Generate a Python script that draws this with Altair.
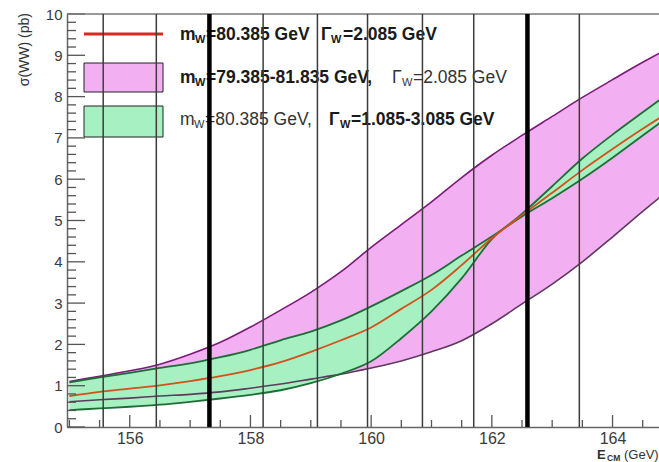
import altair as alt
import pandas as pd
import numpy as np

# ---------------- data ----------------
energy = [155.0, 155.5, 156.0, 156.5, 157.0, 157.5, 158.0, 158.5, 159.0, 159.5,
          160.0, 160.5, 161.0, 161.5, 162.0, 162.5, 163.0, 163.5, 164.0, 164.5, 164.8]
# mW=80.385, GW=2.085
sigma_central = [0.75, 0.85, 0.93, 1.01, 1.11, 1.23, 1.38, 1.57, 1.82, 2.10,
                 2.41, 2.86, 3.32, 3.92, 4.57, 5.13, 5.67, 6.22, 6.73, 7.22, 7.50]
# mW band 79.385-81.835
sigma_mass_low_m = [1.10, 1.23, 1.36, 1.52, 1.76, 2.05, 2.42, 2.83, 3.26, 3.76,
                    4.35, 4.90, 5.45, 6.04, 6.58, 7.06, 7.52, 7.98, 8.41, 8.83, 9.07]
sigma_mass_high_m = [0.61, 0.66, 0.70, 0.75, 0.79, 0.85, 0.94, 1.04, 1.16, 1.28,
                     1.43, 1.60, 1.82, 2.09, 2.50, 2.98, 3.46, 4.00, 4.60, 5.22, 5.58]
# GW band 1.085-3.085
sigma_width_wide = [1.08, 1.20, 1.31, 1.43, 1.54, 1.69, 1.87, 2.10, 2.31, 2.58,
                    2.92, 3.29, 3.68, 4.15, 4.61, 5.10, 5.54, 6.01, 6.52, 7.06, 7.38]
sigma_width_narrow = [0.41, 0.45, 0.49, 0.54, 0.61, 0.69, 0.78, 0.89, 1.06, 1.29,
                      1.59, 2.15, 2.80, 3.60, 4.55, 5.16, 5.83, 6.50, 7.08, 7.62, 7.94]
scan_points = [155.56, 156.44, 158.21, 159.11, 159.94, 160.85, 161.70, 163.45]
optimal_points = [157.32, 162.59]
x_tick_labels = [156, 158, 160, 162, 164]
y_tick_labels = list(range(0, 11))

curves = pd.DataFrame({
    "E": energy,
    "central": sigma_central,
    "m_up": sigma_mass_low_m,
    "m_dn": sigma_mass_high_m,
    "g_a": sigma_width_wide,
    "g_b": sigma_width_narrow,
})

# ---------------- layout ----------------
W, H = 592, 413
XDOM = [154.96, 164.77]
FONT = "Liberation Sans"
xs = alt.Scale(domain=XDOM, nice=False, zero=False)
ys = alt.Scale(domain=[0, 10], nice=False, zero=False)

MAG_FILL = "#f2aff1"
MAG_LINE = "#7a1b78"
GRN_FILL = "#a6f0c2"
GRN_LINE = "#1d6e36"
RED = "#d4501c"

base = alt.Chart(curves)

x_enc = alt.X("E:Q", scale=xs,
              axis=alt.Axis(values=x_tick_labels, format="d", title=None, ticks=False,
                            grid=False, labelFontSize=16, labelFont=FONT,
                            labelColor="#3a3a3a", labelPadding=3,
                            domainColor="#666666", domainWidth=1.5))

mag_area = base.mark_area(color=MAG_FILL, opacity=1, interpolate="monotone", clip=True).encode(
    x=x_enc,
    y=alt.Y("m_up:Q", scale=ys,
            axis=alt.Axis(values=y_tick_labels, title=None, ticks=False, grid=False,
                          labelFontSize=15, labelFont=FONT, labelColor="#3a3a3a",
                          labelPadding=5, domainColor="#666666", domainWidth=1.5)),
    y2="m_dn:Q",
)
grn_area = base.mark_area(color=GRN_FILL, opacity=1, interpolate="monotone", clip=True).encode(
    x=alt.X("E:Q", scale=xs), y=alt.Y("g_a:Q", scale=ys), y2="g_b:Q")


def curve(col, color, width):
    return base.mark_line(color=color, strokeWidth=width, interpolate="monotone", clip=True).encode(
        x=alt.X("E:Q", scale=xs), y=alt.Y(f"{col}:Q", scale=ys))


lines = [
    curve("m_up", MAG_LINE, 1.6),
    curve("m_dn", "#5d3a5e", 1.6),
    curve("g_a", GRN_LINE, 1.8),
    curve("g_b", GRN_LINE, 1.8),
    curve("central", RED, 1.8),
]

# inward ticks
one = pd.DataFrame({"a": [0]})
y_major = pd.DataFrame({"v": y_tick_labels})
y_minor = pd.DataFrame({"v": [round(v, 2) for v in np.arange(0, 10.01, 0.2) if abs(v - round(v)) > 1e-6]})
x_major = pd.DataFrame({"v": x_tick_labels})
x_minor = pd.DataFrame({"v": [v for v in np.arange(155.0, 164.8, 0.5) if v not in x_tick_labels]})

tick_col = "#555555"
ticks = [
    alt.Chart(y_major).mark_rule(color=tick_col, strokeWidth=1.3).encode(
        y=alt.Y("v:Q", scale=ys), x=alt.value(0), x2=alt.value(18)),
    alt.Chart(y_minor).mark_rule(color=tick_col, strokeWidth=1.3).encode(
        y=alt.Y("v:Q", scale=ys), x=alt.value(0), x2=alt.value(9)),
    alt.Chart(x_major).mark_rule(color=tick_col, strokeWidth=1.3).encode(
        x=alt.X("v:Q", scale=xs), y=alt.value(H), y2=alt.value(H - 12)),
    alt.Chart(x_minor).mark_rule(color=tick_col, strokeWidth=1.3).encode(
        x=alt.X("v:Q", scale=xs), y=alt.value(H), y2=alt.value(H - 7)),
    alt.Chart(one).mark_rule(color="#777777", strokeWidth=1.5).encode(
        x=alt.value(0), x2=alt.value(W), y=alt.value(0)),
]

# legend
leg = [
    alt.Chart(one).mark_rule(color="#d42a22", strokeWidth=3).encode(
        x=alt.value(17), x2=alt.value(96), y=alt.value(20)),
    alt.Chart(one).mark_rect(fill=MAG_FILL, stroke="#222222", strokeWidth=1).encode(
        x=alt.value(17), x2=alt.value(96), y=alt.value(49), y2=alt.value(78)),
    alt.Chart(one).mark_rect(fill=GRN_FILL, stroke="#222222", strokeWidth=1).encode(
        x=alt.value(17), x2=alt.value(96), y=alt.value(92), y2=alt.value(123)),
]


def txt(s, x, y, size=17.5, bold=False, color="#1a1a1a", angle=0, align="left"):
    kw = dict(text=s, align=align, baseline="alphabetic", fontSize=size, font=FONT,
              fontWeight="bold" if bold else "normal", color=color)
    if angle:
        kw["angle"] = angle
        kw["baseline"] = "middle"
    return alt.Chart(one).mark_text(**kw).encode(x=alt.value(x), y=alt.value(y))


SUB = 11
texts = [
    # line 1
    txt("m", 113, 26, bold=True), txt("W", 128, 29, SUB, bold=True),
    txt("=80.385 GeV", 139, 26, bold=True),
    txt("Γ", 254, 26, bold=True), txt("W", 264, 29, SUB, bold=True),
    txt("=2.085 GeV", 276, 26, bold=True),
    # line 2
    txt("m", 113, 69, bold=True), txt("W", 128, 72, SUB, bold=True),
    txt("=79.385-81.835 GeV,", 139, 69, bold=True),
    txt("Γ", 325, 69, color="#333333"), txt("W", 335, 72, SUB, color="#333333"),
    txt("=2.085 GeV", 346, 69, color="#333333"),
    # line 3
    txt("m", 113, 111, color="#333333"), txt("W", 127, 114, SUB, color="#333333"),
    txt("=80.385 GeV,", 138, 111, color="#333333"),
    txt("Γ", 262, 111, bold=True), txt("W", 273, 114, SUB, bold=True),
    txt("=1.085-3.085 GeV", 284, 111, bold=True),
    # axis titles
    txt("σ(WW) (pb)", -42, -1, 14, color="#333333", angle=270, align="right"),
    txt("E", 530, 445, 13, bold=True, color="#333333"),
    txt("CM", 540, 447, 8.5, bold=True, color="#333333"),
    txt("(GeV)", 557, 445, 13, color="#333333"),
]

vlines = [
    alt.Chart(pd.DataFrame({"E": scan_points})).mark_rule(color="#3c3c3c", strokeWidth=1.5).encode(
        x=alt.X("E:Q", scale=xs), y=alt.value(0), y2=alt.value(H)),
    alt.Chart(pd.DataFrame({"E": optimal_points})).mark_rule(color="#000000", strokeWidth=4.5).encode(
        x=alt.X("E:Q", scale=xs), y=alt.value(0), y2=alt.value(H)),
]

chart = alt.layer(
    mag_area, grn_area, *lines, *leg, *texts, *ticks, *vlines
).properties(
    width=W, height=H,
    autosize=alt.AutoSizeParams(type="none"),
    padding={"left": 67, "top": 14, "right": 0, "bottom": 35},
    background="white",
).configure_view(stroke=None)

chart.save("out.html", embed_options={"renderer": "svg", "actions": False})
